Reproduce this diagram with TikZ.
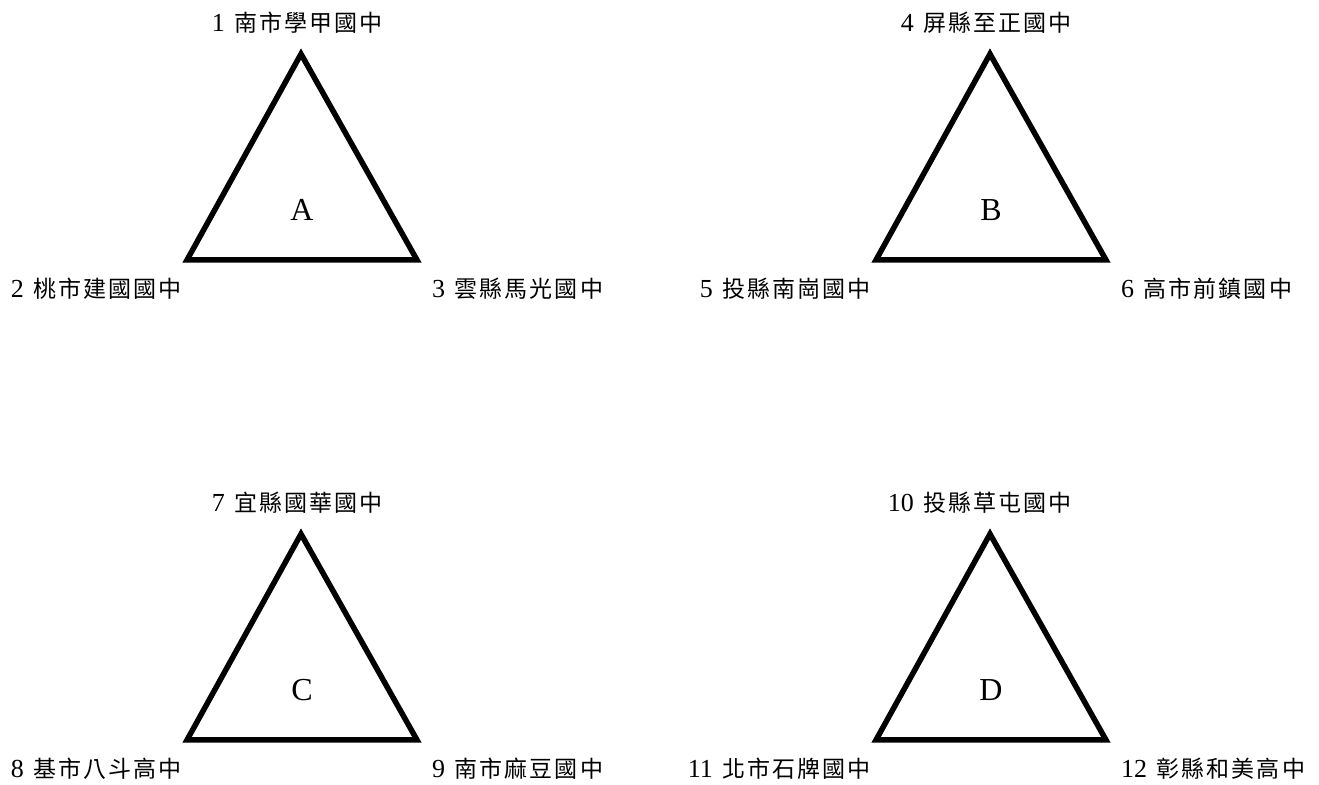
\documentclass[tikz,border=0pt]{standalone}
\usepackage{fontspec}
\setmainfont{Liberation Serif}
\newfontfamily\cjk[LetterSpace=9]{Noto Sans CJK TC}
\newcommand\zh[1]{\hspace{3pt}{\cjk\fontsize{23}{27}\selectfont #1}}
\usetikzlibrary{calc}
\tikzset{
  tri/.style={draw=black,line width=5.5pt},
  school/.style={inner sep=0pt,font=\fontsize{26}{30}\selectfont},
  grouplbl/.style={inner sep=0pt,font=\fontsize{32}{35}\selectfont}
}
\begin{document}
\begin{tikzpicture}[x=1pt,y=1pt]
  \useasboundingbox (0,0) rectangle (1319,784);
  \foreach \g/\cx/\cy/\p/\q/\r in {
      A/301/524/{1 \zh{南市學甲國中}}/{2 \zh{桃市建國國中}}/{3 \zh{雲縣馬光國中}},
      B/990/524/{4 \zh{屏縣至正國中}}/{5 \zh{投縣南崗國中}}/{6 \zh{高市前鎮國中}},
      C/301/44/{7 \zh{宜縣國華國中}}/{8 \zh{基市八斗高中}}/{9 \zh{南市麻豆國中}},
      D/990/44/{10 \zh{投縣草屯國中}}/{11 \zh{北市石牌國中}}/{12 \zh{彰縣和美高中}}}
  {
    \coordinate (\g1) at (\cx,\cy+206);
    \coordinate (\g2) at (\cx-114,\cy);
    \coordinate (\g3) at (\cx+116,\cy);
    \draw[tri] (\g1) -- (\g2) -- (\g3) -- cycle;
    \node[grouplbl] (\g) at ($(\g2)!0.5!(\g3)+(0,50)$) {\g};
    \node[school,anchor=east] (\g top) at ($(\g1)+(82,31)$) {\p};
    \node[school,anchor=east] (\g left) at ($(\g2)+(-5,-29)$) {\q};
    \node[school,anchor=west] (\g right) at ($(\g3)+(15,-29)$) {\r};
  }
\end{tikzpicture}
\end{document}
